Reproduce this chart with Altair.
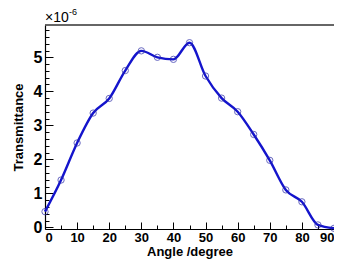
import altair as alt
import pandas as pd

angles = [0, 5, 10, 15, 20, 25, 30, 35, 40, 45, 50, 55, 60, 65, 70, 75, 80, 85, 90]
trans = [0.46, 1.39, 2.48, 3.36, 3.79, 4.61, 5.19, 5.00, 4.94, 5.43, 4.45, 3.80, 3.40,
         2.73, 1.97, 1.10, 0.75, 0.07, -0.03]
x_major = [0, 10, 20, 30, 40, 50, 60, 70, 80, 90]
x_minor = [5, 15, 25, 35, 45, 55, 65, 75, 85]
y_major = [0, 1, 2, 3, 4, 5]
y_minor = [round(i * 0.2, 1) for i in range(0, 30)]

df = pd.DataFrame({"angle": angles, "t": trans})

W, H = 289, 204
FONT = "Liberation Sans"
xs = alt.Scale(domain=[0, 90], nice=False, zero=False)
ys = alt.Scale(domain=[-0.05, 5.95], nice=False, zero=False)

line = alt.Chart(df).mark_line(
    interpolate="monotone", color="#1414cc", strokeWidth=2.4
).encode(
    x=alt.X("angle:Q", scale=xs, axis=alt.Axis(
        orient="bottom", values=x_major, ticks=False, tickSize=0, grid=False,
        domainColor="black", domainWidth=1.2, labelFont=FONT, labelFontWeight="bold",
        labelFontSize=13, labelColor="black", labelPadding=2, labelFlush=True,
        title="Angle /degree", titleFont=FONT, titleFontWeight="bold", titleFontSize=13,
        titleColor="black", titlePadding=1)),
    y=alt.Y("t:Q", scale=ys, axis=alt.Axis(
        orient="left", values=y_major, ticks=False, tickSize=0, grid=False,
        domainColor="black", domainWidth=1.2, labelFont=FONT, labelFontWeight="bold",
        labelFontSize=16, labelColor="black", labelPadding=3, labelFlush=False,
        title="Transmittance", titleFont=FONT, titleFontWeight="bold", titleFontSize=13,
        titleColor="black", titlePadding=8)),
)

pts = alt.Chart(df).mark_point(
    shape="circle", filled=False, size=40, color="#2a2aa8", strokeWidth=1
).encode(
    x=alt.X("angle:Q", scale=xs, axis=alt.Axis(
        orient="top", offset=-H, values=x_major, tickSize=7, tickColor="black",
        tickWidth=1, labels=False, domain=False, grid=False, title=None)),
    y=alt.Y("t:Q", scale=ys, axis=alt.Axis(
        orient="right", offset=-W, values=y_major, tickSize=8, tickColor="black",
        tickWidth=1, labels=False, domain=False, grid=False, title=None)),
)

minor = alt.Chart(df).mark_point(opacity=0).encode(
    x=alt.X("angle:Q", scale=xs, axis=alt.Axis(
        orient="top", offset=-H, values=x_minor, tickSize=4, tickColor="black",
        tickWidth=1, labels=False, domain=False, grid=False, title=None)),
    y=alt.Y("t:Q", scale=ys, axis=alt.Axis(
        orient="right", offset=-W, values=y_minor, tickSize=4, tickColor="black",
        tickWidth=1, labels=False, domain=False, grid=False, title=None)),
)

one = alt.Data(values=[{"k": 1}])
top_line = alt.Chart(one).mark_rule(color="#333333", strokeWidth=1.5).encode(
    x=alt.value(0), x2=alt.value(W), y=alt.value(0))
exp_base = alt.Chart(one).mark_text(
    font=FONT, fontSize=14, align="left", baseline="alphabetic", color="black"
).encode(x=alt.value(0), y=alt.value(-3), text=alt.value("×10"))
exp_sup = alt.Chart(one).mark_text(
    font=FONT, fontSize=9, align="left", baseline="alphabetic", color="black"
).encode(x=alt.value(24), y=alt.value(-10), text=alt.value("-6"))

chart = alt.layer(line, pts, minor, top_line, exp_base, exp_sup).resolve_axis(
    x="independent", y="independent"
).properties(
    width=W, height=H,
    autosize=alt.AutoSizeParams(type="none"),
    padding={"left": 37, "top": 17, "right": 0, "bottom": 30},
    background="white",
).configure_view(stroke=None)

chart.save("out.html", embed_options={"renderer": "svg", "actions": False})
